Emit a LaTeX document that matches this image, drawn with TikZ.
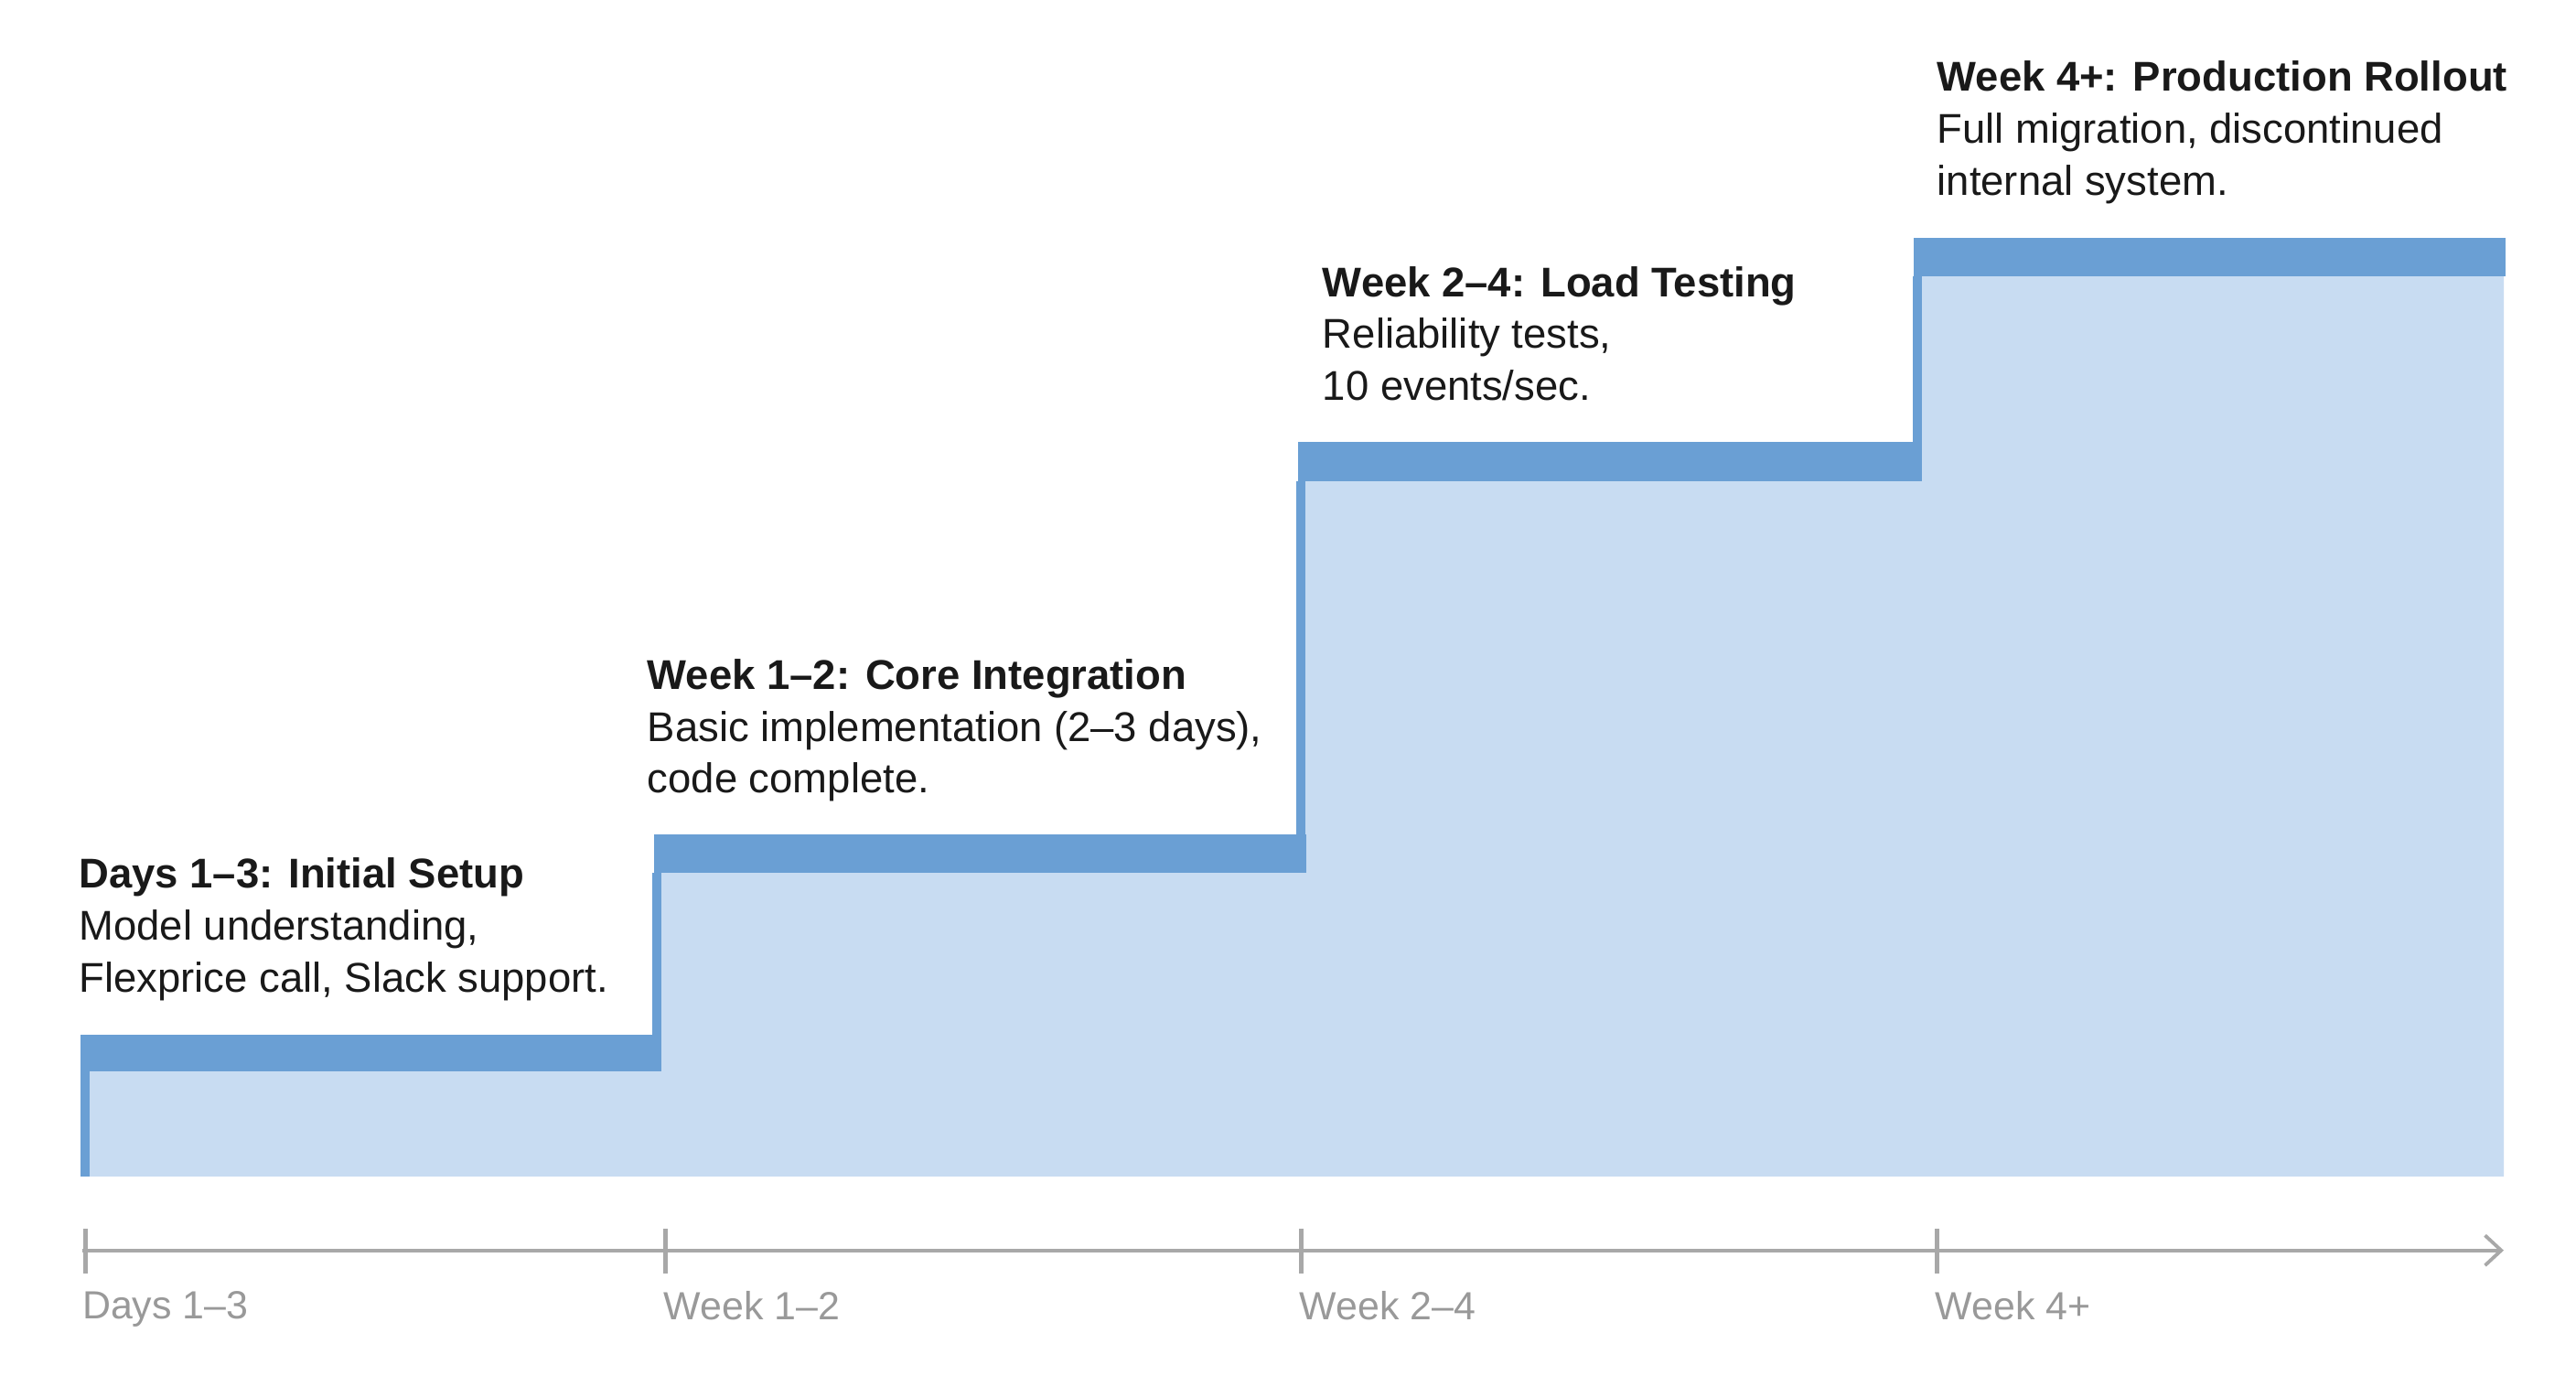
\documentclass[tikz,border=0pt]{standalone}
\usepackage{fontspec}
\setmainfont{Liberation Sans}
\usetikzlibrary{arrows.meta}
\definecolor{band}{HTML}{6A9FD4}
\definecolor{fillb}{HTML}{C8DCF2}
\definecolor{axisg}{HTML}{A8A8A8}
\definecolor{labg}{HTML}{999999}
\begin{document}
\begin{tikzpicture}[x=0.05cm,y=-0.05cm,
  band/.style={fill=band,draw=none},
  riser/.style={draw=band,line width=8pt},
  ttl/.style={anchor=north west,align=left,inner sep=0pt,font=\fontsize{36}{45}\selectfont,text=black!90},
  axl/.style={anchor=north west,inner sep=0pt,font=\fontsize{34}{40}\selectfont,text=labg},
  tick/.style={draw=axisg,line width=4pt}]
\useasboundingbox (0,0) rectangle (1568,837);
\fill[white] (0,0) rectangle (1568,837);
\fill[fillb] (50,716) -- (50,630) -- (400,630) -- (400,508) -- (793,508) -- (793,269) -- (1168,269) -- (1168,145) -- (1524,145) -- (1524,716) -- cycle;
\fill[band] (50,630) rectangle (402,652);
\fill[band] (398,508) rectangle (795,531);
\fill[band] (790,269) rectangle (1169,293);
\fill[band] (1165,145) rectangle (1525,168);
\draw[riser] (52,630) -- (52,716);
\draw[riser] (400,531) -- (400,652);
\draw[riser] (792,293) -- (792,531);
\draw[riser] (1167,168) -- (1167,293);
% axis
\coordinate (a0) at (50,761);
\coordinate (a1) at (1524,761);
\draw[draw=axisg,line width=3pt,-{Straight Barb[length=14pt,width=26pt,line width=3pt]}] (a0) -- (a1);
\foreach \x/\n in {52/t1,405/t2,792/t3,1179/t4}{
  \draw[tick] (\x,748) -- (\x,775);
}
\node[axl] (l1) at (50,786) {Days 1–3};
\node[axl] (l2) at (404,786) {Week 1–2};
\node[axl] (l3) at (791,786) {Week 2–4};
\node[axl] (l4) at (1178,786) {Week 4+};
% texts
\node[ttl] (s1) at (48,522) {\textbf{Days 1–3: Initial Setup}\\Model understanding,\\Flexprice call, Slack support.};
\node[ttl] (s2) at (394,401) {\textbf{Week 1–2: Core Integration}\\Basic implementation (2–3 days),\\code complete.};
\node[ttl] (s3) at (805,162) {\textbf{Week 2–4: Load Testing}\\Reliability tests,\\10 events/sec.};
\node[ttl] (s4) at (1179,37) {\textbf{Week 4+: Production Rollout}\\Full migration, discontinued\\internal system.};
\end{tikzpicture}
\end{document}
